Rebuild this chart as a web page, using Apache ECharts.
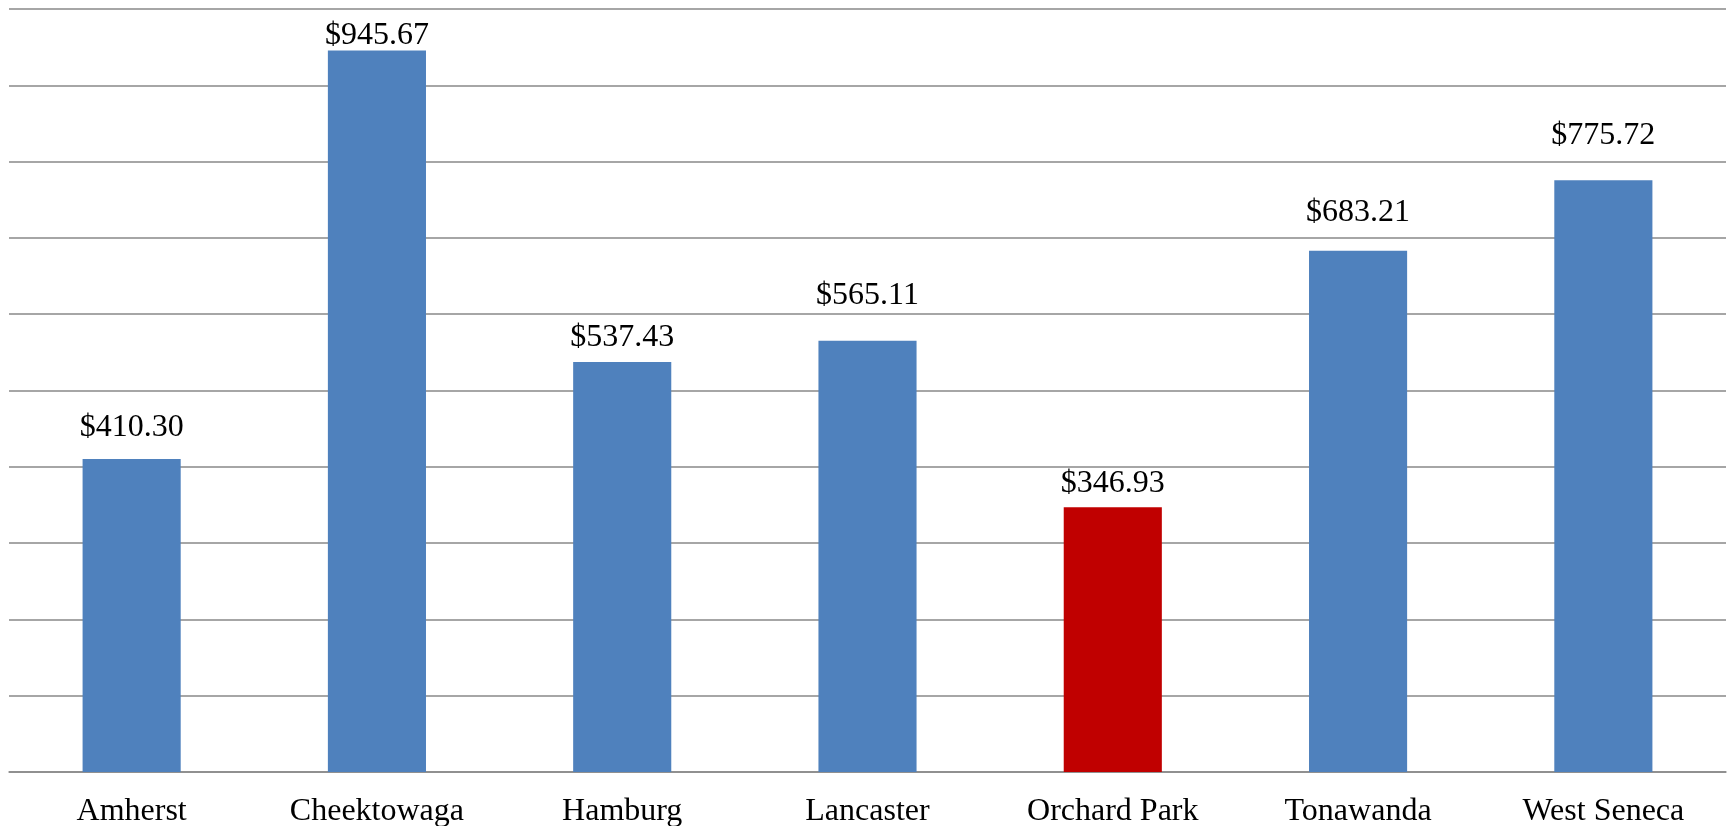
<!DOCTYPE html>
<html>
<head>
<meta charset="utf-8">
<script src="https://cdn.jsdelivr.net/npm/echarts@6/dist/echarts.min.js"></script>
<style>
html,body{margin:0;padding:0;background:#fff;}
#chart{width:1731px;height:826px;}
</style>
</head>
<body>
<div id="chart"></div>
<script>
const categories = ['Amherst','Cheektowaga','Hamburg','Lancaster','Orchard Park','Tonawanda','West Seneca'];
const values = [410.30, 945.67, 537.43, 565.11, 346.93, 683.21, 775.72];
const highlightCategory = 'Orchard Park';

// label offsets above bars (style only)
const labelDistances = [15, -1, 8, 29, 8, 22, 29];

const BLUE = '#4F81BD';
const RED = '#C00000';
const FONT = '"Liberation Serif", "Times New Roman", serif';

const chart = echarts.init(document.getElementById('chart'), null, {renderer:'canvas'});
chart.setOption({
  animation: false,
  backgroundColor: '#ffffff',
  grid: {left: 9, right: 5, top: 9, bottom: 54, containLabel: false, outerBoundsMode: 'none'},
  xAxis: {
    type: 'category',
    data: categories,
    axisLine: {show: true, lineStyle: {color: '#898989', width: 1.5}},
    axisTick: {show: false},
    axisLabel: {color: '#000', fontFamily: FONT, fontSize: 32, margin: 24, interval: 0}
  },
  yAxis: {
    type: 'value',
    min: 0, max: 1000, interval: 100,
    axisLine: {show: false},
    axisTick: {show: false},
    axisLabel: {show: false},
    splitLine: {show: true, lineStyle: {color: '#898989', width: 1.5}}
  },
  series: [{
    type: 'bar',
    barWidth: '40%',
    data: values.map((v, i) => ({
      value: v,
      itemStyle: {color: categories[i] === highlightCategory ? RED : BLUE},
      label: {distance: labelDistances[i]}
    })),
    label: {
      show: true,
      position: 'top',
      color: '#000',
      fontFamily: FONT,
      fontSize: 32,
      formatter: p => '$' + p.value.toFixed(2)
    }
  }]
});
</script>
</body>
</html>
